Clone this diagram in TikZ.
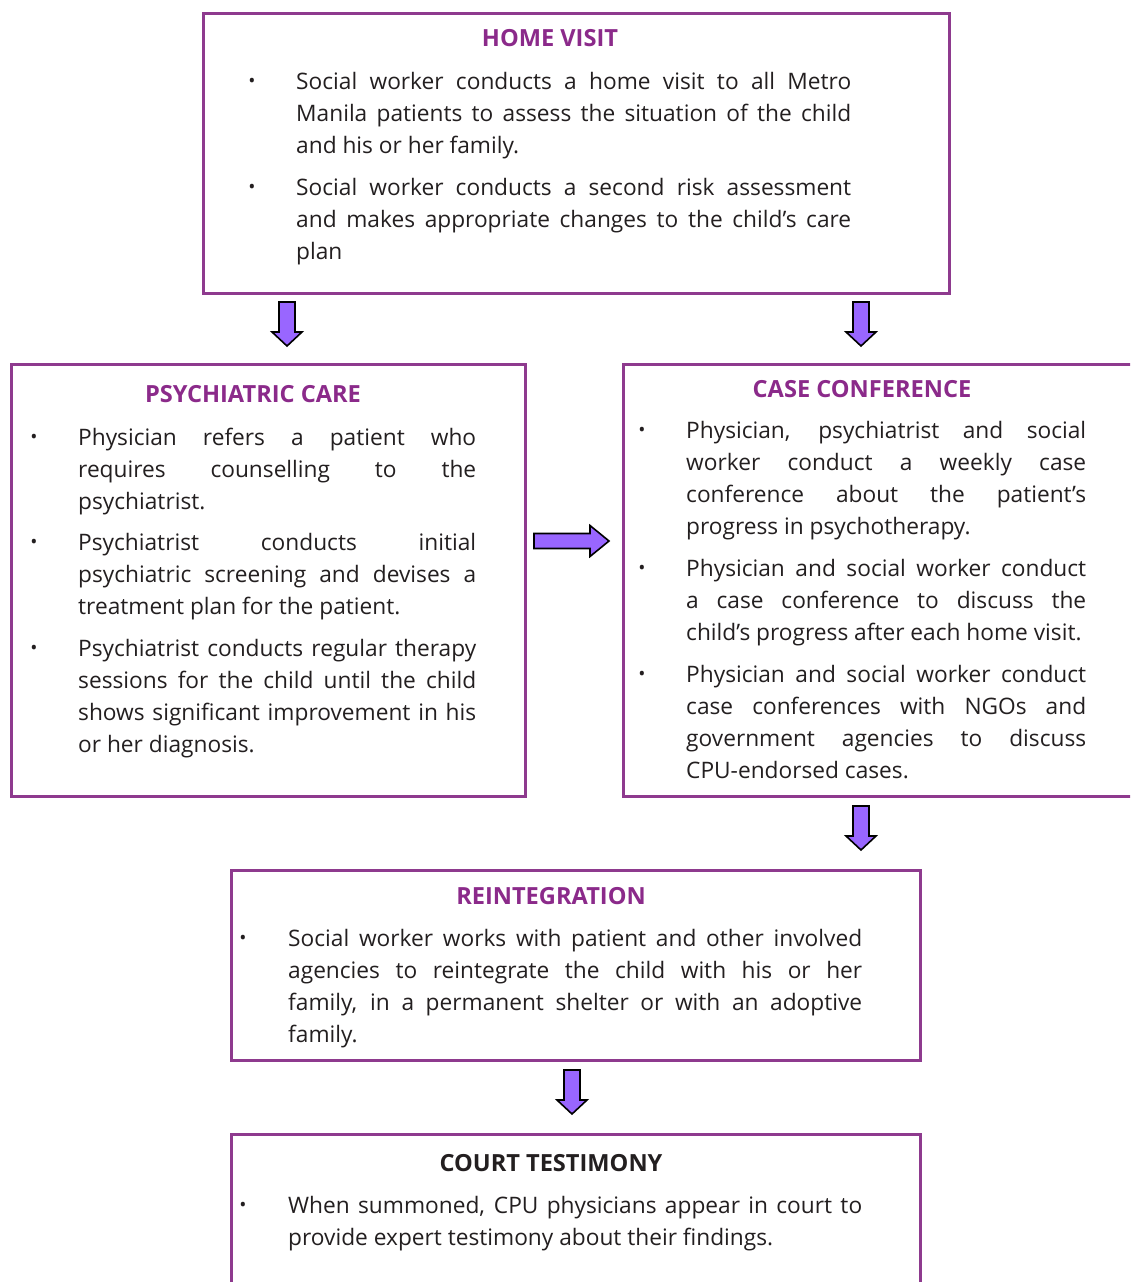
\documentclass[tikz,border=0pt]{standalone}
\usepackage{fontspec}
\setmainfont{Open Sans}
\definecolor{framec}{HTML}{8E3A8E}
\definecolor{headc}{HTML}{8B2A8A}
\definecolor{ink}{HTML}{231F20}
\definecolor{arrowfill}{HTML}{9966FF}
\hyphenpenalty=10000
\exhyphenpenalty=10000
\tikzset{
  stagebox/.style={draw=framec, line width=2.6pt, rectangle, anchor=north west, inner sep=0pt},
  stagetitle/.style={font=\fontsize{23.6}{28}\selectfont\bfseries, text=headc, anchor=base, inner sep=0pt},
  para/.style={font=\fontsize{22.7}{32}\selectfont, text=ink, align=justify, anchor=base west, inner sep=0pt},
  bul/.style={font=\fontsize{19}{19}\selectfont, text=ink, anchor=base, inner sep=0pt},
  blockarrow/.style={draw=black, line width=1.6pt, fill=arrowfill, line join=miter},
  downarrow/.pic={\path[blockarrow] (-8,0) -- (8,0) -- (8,30) -- (15,30) -- (0,44) -- (-15,30) -- (-8,30) -- cycle;},
  rightarrow/.pic={\path[blockarrow] (0,-7.5) -- (56,-7.5) -- (56,-15.5) -- (75,0) -- (56,15.5) -- (56,7.5) -- (0,7.5) -- cycle;}
}
\newcommand\bulletdot{\raisebox{1.5pt}{•}}
\begin{document}
\begin{tikzpicture}[x=1pt,y=-1pt]
\useasboundingbox (0,0) rectangle (1130,1282);
\clip (0,0) rectangle (1130,1282);
\fill[white] (0,0) rectangle (1130,1282);

% ---- Home visit
\node[stagebox, minimum width=746pt, minimum height=280pt] (hv) at (202,12) {};
\node[stagetitle] (hvT) at (550,46) {HOME VISIT};
\node[bul] (hvB1) at (252,89) {\bulletdot};
\node[para, text width=555pt] (hvP1) at (296,89) {Social worker conducts a home visit to all Metro\linebreak Manila patients to assess the situation of the child\linebreak and his or her family.};
\node[bul] (hvB2) at (252,195) {\bulletdot};
\node[para, text width=555pt] (hvP2) at (296,195) {Social worker conducts a second risk assessment\linebreak and makes appropriate changes to the child’s care\linebreak plan};

% ---- Psychiatric care
\node[stagebox, minimum width=514pt, minimum height=432pt] (pc) at (10,363) {};
\node[stagetitle] (pcT) at (253,402) {PSYCHIATRIC CARE};
\node[bul] (pcB1) at (34,445) {\bulletdot};
\node[para, text width=398pt] (pcP1) at (78,445) {Physician refers a patient who\linebreak requires counselling to the\linebreak psychiatrist.};
\node[bul] (pcB2) at (34,550) {\bulletdot};
\node[para, text width=398pt] (pcP2) at (78,550) {Psychiatrist conducts initial\linebreak psychiatric screening and devises a\linebreak treatment plan for the patient.};
\node[bul] (pcB3) at (34,656) {\bulletdot};
\node[para, text width=398pt] (pcP3) at (78,656) {Psychiatrist conducts regular therapy\linebreak sessions for the child until the child\linebreak shows significant improvement in his\linebreak or her diagnosis.};

% ---- Case conference (runs past the right edge)
\node[stagebox, minimum width=530pt, minimum height=432pt] (cc) at (622,363) {};
\node[stagetitle] (ccT) at (862,397) {CASE CONFERENCE};
\node[bul] (ccB1) at (642,438) {\bulletdot};
\node[para, text width=400pt] (ccP1) at (686,438) {Physician, psychiatrist and social\linebreak worker conduct a weekly case\linebreak conference about the patient’s\linebreak progress in psychotherapy.};
\node[bul] (ccB2) at (642,576) {\bulletdot};
\node[para, text width=400pt] (ccP2) at (686,576) {Physician and social worker conduct\linebreak a case conference to discuss the\linebreak child’s progress after each home visit.};
\node[bul] (ccB3) at (642,682) {\bulletdot};
\node[para, text width=400pt] (ccP3) at (686,682) {Physician and social worker conduct\linebreak case conferences with NGOs and\linebreak government agencies to discuss\linebreak CPU-endorsed cases.};

% ---- Reintegration
\node[stagebox, minimum width=689pt, minimum height=190pt] (ri) at (230,869) {};
\node[stagetitle] (riT) at (551,904) {REINTEGRATION};
\node[bul] (riB1) at (243,946) {\bulletdot};
\node[para, text width=574pt] (riP1) at (288,946) {Social worker works with patient and other involved\linebreak agencies to reintegrate the child with his or her\linebreak family, in a permanent shelter or with an adoptive\linebreak family.};

% ---- Court testimony (runs past the bottom edge)
\node[stagebox, minimum width=689pt, minimum height=180pt] (ct) at (230,1133) {};
\node[stagetitle, text=ink] (ctT) at (551,1171) {COURT TESTIMONY};
\node[bul] (ctB1) at (243,1213) {\bulletdot};
\node[para, text width=574pt] (ctP1) at (288,1213) {When summoned, CPU physicians appear in court to\linebreak provide expert testimony about their findings.};

% ---- Flow arrows between the stages
\pic at (287,302) {downarrow};
\pic at (861,302) {downarrow};
\pic at (534,541) {rightarrow};
\pic at (861,806) {downarrow};
\pic at (572,1070) {downarrow};
\end{tikzpicture}
\end{document}
